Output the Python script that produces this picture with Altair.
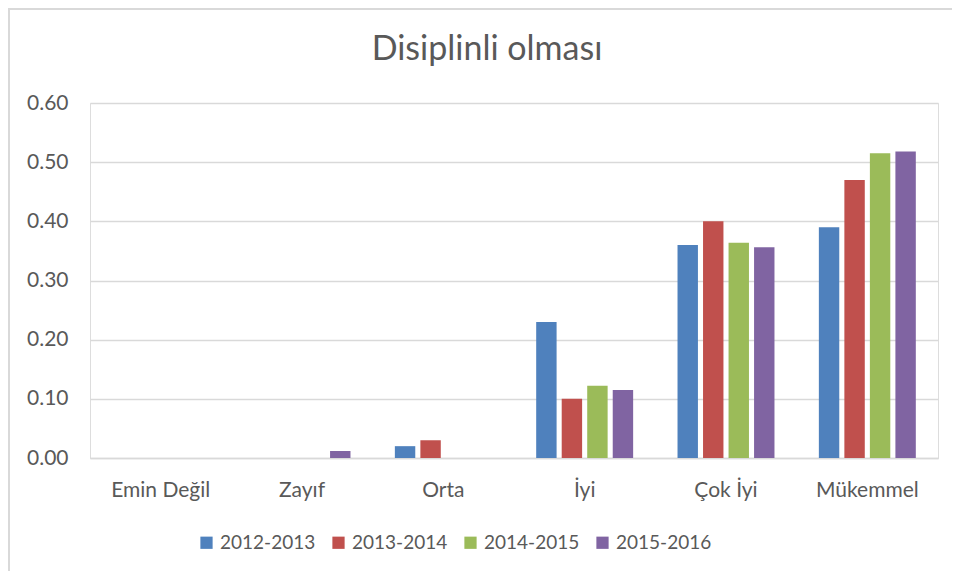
import altair as alt
import pandas as pd

categories = ["Emin Değil", "Zayıf", "Orta", "İyi", "Çok İyi", "Mükemmel"]
series = ["2012-2013", "2013-2014", "2014-2015", "2015-2016"]
v2012 = [0.0, 0.0, 0.02, 0.23, 0.36, 0.39]
v2013 = [0.0, 0.0, 0.03, 0.10, 0.40, 0.47]
v2014 = [0.0, 0.0, 0.0, 0.122, 0.364, 0.515]
v2015 = [0.0, 0.012, 0.0, 0.115, 0.356, 0.518]
colors = ["#4F81BD", "#C0504D", "#9BBB59", "#8064A2"]
title_text = "Disiplinli olması"

rows = []
for s, vals in zip(series, [v2012, v2013, v2014, v2015]):
    for c, v in zip(categories, vals):
        rows.append({"cat": c, "year": s, "val": v})
df = pd.DataFrame(rows)

FONT = "Lato"
GREY = "#595959"

bars = alt.Chart(df).mark_bar().encode(
    x=alt.X("cat:N", sort=categories, title=None,
            scale=alt.Scale(paddingInner=0.314, paddingOuter=0.157),
            axis=alt.Axis(labelAngle=0, labelFontSize=21, labelColor=GREY, labelFont=FONT,
                          labelPadding=21, ticks=False, domain=True, domainColor="#d9d9d9",
                          domainWidth=1.3)),
    xOffset=alt.XOffset("year:N", sort=series, scale=alt.Scale(paddingInner=0.2, paddingOuter=0)),
    y=alt.Y("val:Q", title=None,
            scale=alt.Scale(domain=[0, 0.6], nice=False),
            axis=alt.Axis(values=[0, 0.1, 0.2, 0.3, 0.4, 0.5, 0.6], format=".2f",
                          labelFontSize=21, labelColor=GREY, labelFont=FONT,
                          ticks=False, domain=False, gridColor="#d9d9d9", gridWidth=1.3,
                          labelPadding=22)),
    color=alt.Color("year:N", sort=series, title=None,
                    scale=alt.Scale(domain=series, range=colors),
                    legend=alt.Legend(orient="none", direction="horizontal",
                                      legendX=107, legendY=430,
                                      symbolType="square", symbolSize=150,
                                      symbolStrokeWidth=0, labelFontSize=19,
                                      labelColor=GREY, labelFont=FONT,
                                      columnPadding=13, labelOffset=4)),
)

title = alt.Chart(pd.DataFrame({"t": [title_text]})).mark_text(
    font=FONT, fontSize=34, color=GREY, align="center", baseline="middle"
).encode(text="t:N", x=alt.value(397), y=alt.value(-53))

top_line = alt.Chart(pd.DataFrame({"a": [0]})).mark_rect(
    fill="#d9d9d9"
).encode(x=alt.value(-82), x2=alt.value(870), y=alt.value(-95), y2=alt.value(-93))

left_line = alt.Chart(pd.DataFrame({"a": [0]})).mark_rect(
    fill="#d9d9d9"
).encode(x=alt.value(-82), x2=alt.value(-80), y=alt.value(-95), y2=alt.value(480))

chart = alt.layer(bars, title, top_line, left_line).properties(
    width=848, height=355,
    autosize=alt.AutoSizeParams(type="none"),
    padding={"left": 82, "top": 95, "right": 14, "bottom": 113},
).configure_view(stroke=None).configure(background="white")

chart.save("out.html", embed_options={"renderer": "svg", "actions": False})
